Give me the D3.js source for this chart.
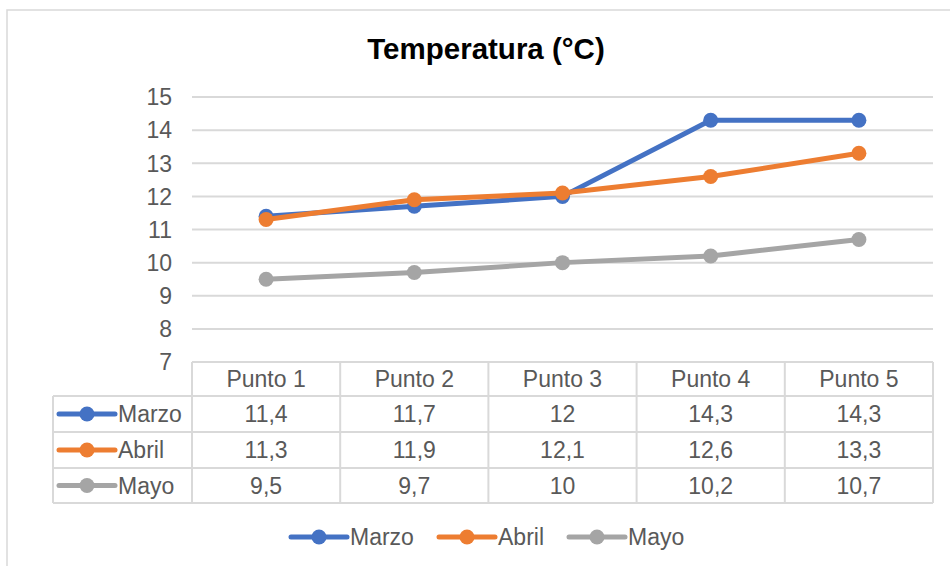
<!DOCTYPE html>
<html>
<head>
<meta charset="utf-8">
<script src="https://cdn.jsdelivr.net/npm/d3@7"></script>
<style>
  body { margin: 0; background: #fff; }
  text { font-family: "Liberation Sans", Arial, sans-serif; fill: #595959; }
</style>
</head>
<body>
<div id="chart"></div>
<script>
const categories = ["Punto 1", "Punto 2", "Punto 3", "Punto 4", "Punto 5"];
const seriesNames = ["Marzo", "Abril", "Mayo"];
const marzo = [11.4, 11.7, 12, 14.3, 14.3];
const abril = [11.3, 11.9, 12.1, 12.6, 13.3];
const mayo = [9.5, 9.7, 10, 10.2, 10.7];
const yTicks = [7, 8, 9, 10, 11, 12, 13, 14, 15];
const colors = ["#4472C4", "#ED7D31", "#A5A5A5"];

const series = seriesNames.map((name, i) => ({ name, values: [marzo, abril, mayo][i], color: colors[i] }));

const width = 950, height = 566;
const plotLeft = 192, plotRight = 933, plotTop = 97, plotBottom = 362;
const fmt = v => String(v).replace(".", ",");

const svg = d3.select("#chart").append("svg")
  .attr("width", width).attr("height", height);

// chart frame
svg.append("rect")
  .attr("x", 7).attr("y", 10).attr("width", 960).attr("height", 570)
  .attr("fill", "none").attr("stroke", "#D9D9D9").attr("stroke-width", 1.5);

svg.append("text")
  .attr("x", 486).attr("y", 59)
  .attr("text-anchor", "middle")
  .style("font-size", "29.5px").style("font-weight", "bold").style("fill", "#000")
  .text("Temperatura (°C)");

const x = d3.scaleBand().domain(categories).range([plotLeft, plotRight]);
const y = d3.scaleLinear().domain([7, 15]).range([plotBottom, plotTop]);

// gridlines
svg.append("g").selectAll("line")
  .data(yTicks.filter(t => t > 7))
  .join("line")
  .attr("x1", plotLeft).attr("x2", plotRight)
  .attr("y1", d => y(d)).attr("y2", d => y(d))
  .attr("stroke", "#D9D9D9").attr("stroke-width", 2);

// y axis labels
svg.append("g").selectAll("text")
  .data(yTicks)
  .join("text")
  .attr("x", 172).attr("y", d => y(d))
  .attr("dy", "0.36em")
  .attr("text-anchor", "end")
  .style("font-size", "23px")
  .text(d => d);

// lines
const line = d3.line()
  .x((d, i) => x(categories[i]) + x.bandwidth() / 2)
  .y(d => y(d));

series.forEach(s => {
  svg.append("path")
    .datum(s.values)
    .attr("d", line)
    .attr("fill", "none")
    .attr("stroke", s.color)
    .attr("stroke-width", 5)
    .attr("stroke-linejoin", "round");
  svg.append("g").selectAll("circle")
    .data(s.values)
    .join("circle")
    .attr("cx", (d, i) => x(categories[i]) + x.bandwidth() / 2)
    .attr("cy", d => y(d))
    .attr("r", 7.5)
    .attr("fill", s.color);
});

// data table
const rowY = [362, 396, 432, 468, 503];
const tableLeft = 53;
const grid = svg.append("g").attr("stroke", "#D9D9D9").attr("stroke-width", 2);
rowY.forEach((ry, i) => {
  grid.append("line")
    .attr("x1", i === 0 ? plotLeft : tableLeft).attr("x2", plotRight)
    .attr("y1", ry).attr("y2", ry);
});
grid.append("line").attr("x1", tableLeft).attr("x2", tableLeft).attr("y1", rowY[1]).attr("y2", rowY[4]);
x.domain().forEach(c => {
  grid.append("line").attr("x1", x(c)).attr("x2", x(c)).attr("y1", rowY[0]).attr("y2", rowY[4]);
});
grid.append("line").attr("x1", plotRight).attr("x2", plotRight).attr("y1", rowY[0]).attr("y2", rowY[4]);

svg.append("g").selectAll("text")
  .data(categories)
  .join("text")
  .attr("x", d => x(d) + x.bandwidth() / 2)
  .attr("y", (rowY[0] + rowY[1]) / 2)
  .attr("dy", "0.36em")
  .attr("text-anchor", "middle")
  .style("font-size", "23px")
  .text(d => d);

function legendKey(g, cx, cy, color) {
  g.append("line")
    .attr("x1", cx - 28).attr("x2", cx + 28)
    .attr("y1", cy).attr("y2", cy)
    .attr("stroke", color).attr("stroke-width", 5).attr("stroke-linecap", "round");
  g.append("circle").attr("cx", cx).attr("cy", cy).attr("r", 7.5).attr("fill", color);
}

series.forEach((s, i) => {
  const cy = (rowY[i + 1] + rowY[i + 2]) / 2;
  const g = svg.append("g");
  legendKey(g, 87, cy, s.color);
  g.append("text").attr("x", 118).attr("y", cy).attr("dy", "0.36em")
    .style("font-size", "23px").text(s.name);
  g.selectAll("text.v")
    .data(s.values)
    .join("text")
    .attr("class", "v")
    .attr("x", (d, j) => x(categories[j]) + x.bandwidth() / 2)
    .attr("y", cy)
    .attr("dy", "0.36em")
    .attr("text-anchor", "middle")
    .style("font-size", "23px")
    .text(d => fmt(d));
});

// legend
const legendX = [319, 467, 597];
series.forEach((s, i) => {
  const g = svg.append("g");
  legendKey(g, legendX[i], 537, s.color);
  g.append("text").attr("x", legendX[i] + 31).attr("y", 537).attr("dy", "0.36em")
    .style("font-size", "23px").text(s.name);
});
</script>
</body>
</html>
